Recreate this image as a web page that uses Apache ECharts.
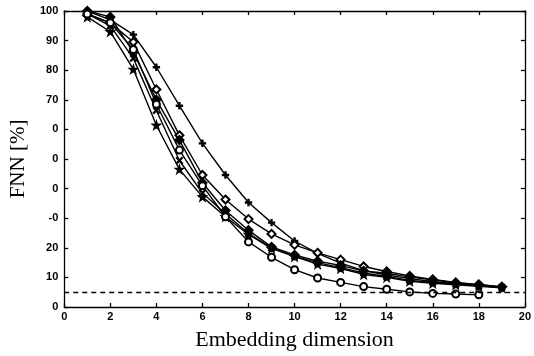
<!DOCTYPE html>
<html>
<head>
<meta charset="utf-8">
<script src="https://cdn.jsdelivr.net/npm/echarts@6/dist/echarts.min.js"></script>
<style>
  html, body { margin: 0; padding: 0; background: #fff; }
  #chart { width: 534px; height: 356px; }
</style>
</head>
<body>
<div id="chart"></div>
<script>
// embedding dimension 1..19
const dims = [1, 2, 3, 4, 5, 6, 7, 8, 9, 10, 11, 12, 13, 14, 15, 16, 17, 18, 19];

// FNN [%] per curve
const plusVals = [100, 97, 92, 81, 68, 55.3, 44.6, 35.3, 28.5, 22.3, 18.1, 14.8, 12.3, 10.8, 9.6, 8.6, 7.8, 7.2, 6.8];
const openDiamondVals = [99, 96, 89.5, 73.5, 58, 44.6, 36.3, 29.7, 24.7, 21, 18.3, 16, 13.7, 12, 10.5, 9.3, 8.3, 7.5, 6.8];
const filledDiamondVals = [100, 98, 86, 70, 56.4, 42, 32.6, 25.9, 20.3, 17.6, 15.5, 14, 12.2, 11.4, 10.1, 9.2, 8.1, 7.6, 6.8];
const starVals = [98, 93, 80.3, 61.4, 46.5, 37.2, 30.5, 24.5, 19.8, 17, 14.5, 13, 11, 10, 8.7, 8, 7.5, 7, 6.5];
const crossVals = [99, 95, 84, 66.4, 49.5, 38.5, 31.5, 24.8, 20, 17.2, 15, 13.3, 11.5, 10.3, 9, 8.4, 7.7, 7.2, 6.6];
const circleVals = [99, 96, 87, 68.5, 53, 41, 30.5, 22, 16.8, 12.6, 9.8, 8.3, 6.9, 6, 5.1, 4.6, 4.4, 4.1];

const threshold = 5;

const xTicks = ['0', '2', '4', '6', '8', '10', '12', '14', '16', '18', '20'];
const yTicks = ['0', '10', '20', '-0', '0', '0', '0', '70', '80', '90', '100'];

const plusPath = 'path://M4.2,0H5.8V4.2H10V5.8H5.8V10H4.2V5.8H0V4.2H4.2Z';
const crossPath = 'path://M1,0L5,4L9,0L10,1L6,5L10,9L9,10L5,6L1,10L0,9L4,5L0,1Z';
const starPath = 'path://M5,0L6.2,3.6L10,3.6L7,5.9L8.1,9.5L5,7.3L1.9,9.5L3,5.9L0,3.6L3.8,3.6Z';

const toPairs = vals => vals.map((v, i) => [dims[i], v]);

const makeSeries = (vals, symbol, size, extra) => Object.assign({
  type: 'line',
  data: toPairs(vals),
  symbol: symbol,
  symbolSize: size,
  showAllSymbol: true,
  lineStyle: { color: '#000', width: 1.4 },
  itemStyle: { color: '#000', borderColor: '#000', borderWidth: 1.4 },
  emphasis: { disabled: true },
  z: 3
}, extra || {});

const chart = echarts.init(document.getElementById('chart'));

const labelFont = { fontFamily: 'Liberation Sans', fontWeight: 'bold', fontSize: 11, color: '#000' };
const axisLineStyle = { color: '#000', width: 1.3 };

chart.setOption({
  animation: false,
  grid: { left: 59, right: 5, top: 11, bottom: 45, show: false },
  xAxis: [
    {
      type: 'value', min: 0, max: 20, interval: 2,
      axisLine: { show: true, onZero: false, lineStyle: axisLineStyle },
      axisTick: { show: true, inside: true, length: 4, lineStyle: axisLineStyle },
      axisLabel: Object.assign({ margin: 4, formatter: v => xTicks[Math.round(v / 2)] }, labelFont),
      splitLine: { show: false },
      name: 'Embedding dimension',
      nameLocation: 'middle',
      nameGap: 22,
      nameTextStyle: { fontFamily: 'Liberation Serif', fontSize: 22, color: '#000' }
    },
    {
      type: 'value', min: 0, max: 20, interval: 2, position: 'top',
      axisLine: { show: true, onZero: false, lineStyle: axisLineStyle },
      axisTick: { show: true, inside: true, length: 4, lineStyle: axisLineStyle },
      axisLabel: { show: false },
      splitLine: { show: false }
    }
  ],
  yAxis: [
    {
      type: 'value', min: 0, max: 100, interval: 10,
      axisLine: { show: true, onZero: false, lineStyle: axisLineStyle },
      axisTick: { show: true, inside: true, length: 4, lineStyle: axisLineStyle },
      axisLabel: Object.assign({ margin: 6, formatter: v => yTicks[Math.round(v / 10)] }, labelFont),
      splitLine: { show: false },
      name: 'FNN [%]',
      nameLocation: 'middle',
      nameGap: 25,
      nameTextStyle: { fontFamily: 'Liberation Serif', fontSize: 21, color: '#000' }
    },
    {
      type: 'value', min: 0, max: 100, interval: 10, position: 'right',
      axisLine: { show: true, onZero: false, lineStyle: axisLineStyle },
      axisTick: { show: true, inside: true, length: 4, lineStyle: axisLineStyle },
      axisLabel: { show: false },
      splitLine: { show: false }
    }
  ],
  series: [
    makeSeries(plusVals, plusPath, 6),
    makeSeries(openDiamondVals, 'emptyDiamond', 8),
    makeSeries(filledDiamondVals, 'diamond', 9),
    makeSeries(starVals, starPath, 8),
    makeSeries(crossVals, crossPath, 6),
    makeSeries(circleVals, 'emptyCircle', 7, {
      markLine: {
        silent: true,
        symbol: 'none',
        label: { show: false },
        lineStyle: { color: '#000', type: [5, 4], width: 1.3 },
        data: [{ yAxis: threshold }]
      }
    })
  ]
});
</script>
</body>
</html>
